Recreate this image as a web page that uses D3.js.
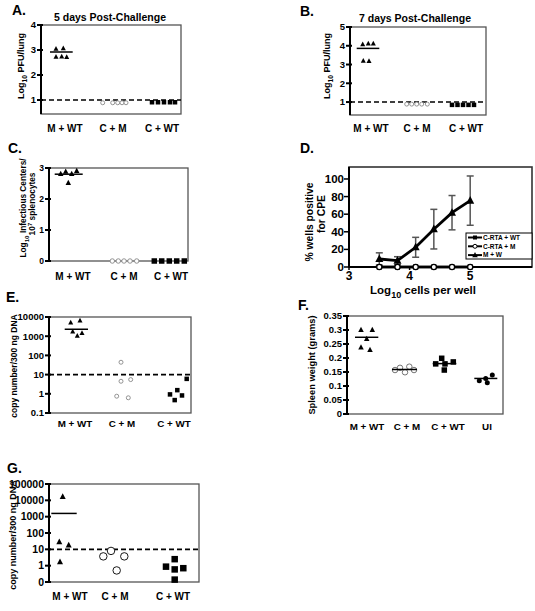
<!DOCTYPE html>
<html><head><meta charset="utf-8">
<script src="https://cdn.jsdelivr.net/npm/d3@7"></script>
<style>
body{margin:0;background:#fff}
svg{display:block}
text{font-family:"Liberation Sans",Arial,Helvetica,sans-serif;font-weight:bold;fill:#000}
</style>
</head><body><script>
// ---------------- DATA ----------------
const groups3 = ["M + WT", "C + M", "C + WT"];
const groups4 = ["M + WT", "C + M", "C + WT", "UI"];

// Panel A : 5 days post-challenge, log10 PFU/lung
const aTitle = "5 days Post-Challenge";
const aTicks = [1, 2, 3, 4];
const aMWT = [3.05, 3.07, 2.73, 2.74, 2.72];
const aMWTjit = [-0.18, -0.034, -0.18, -0.066, 0.034];
const aMWTmean = 2.92;
const aCM = [0.89, 0.89, 0.89, 0.89, 0.89];
const aCMjit = [-0.206, -0.006, 0.094, 0.18, 0.26];
const aCWT = [0.91, 0.91, 0.91, 0.91, 0.91];
const aCWTjit = [-0.2, -0.08, 0.04, 0.16, 0.26];
const aLimit = 1;

// Panel B : 7 days post-challenge
const bTitle = "7 days Post-Challenge";
const bTicks = [1, 2, 3, 4, 5];
const bMWT = [4.08, 4.11, 4.12, 3.2, 3.18];
const bMWTjit = [-0.166, -0.054, 0.046, -0.154, -0.04];
const bMWTmean = 3.86;
const bCM = [0.89, 0.89, 0.89, 0.89, 0.89];
const bCMjit = [-0.206, -0.106, -0.006, 0.094, 0.206];
const bCWT = [0.85, 0.85, 0.85, 0.85, 0.85];
const bCWTjit = [-0.28, -0.17, -0.06, 0.05, 0.16];
const bLimit = 1;

// Panel C : log10 infectious centers / 10^7 splenocytes
const cTicks = [0, 1, 2, 3];
const cMWT = [2.81, 2.88, 2.81, 2.91, 2.52];
const cMWTjit = [-0.246, -0.146, -0.026, 0.074, -0.094];
const cMWTmean = 2.8;
const cCM = [0, 0, 0, 0, 0];
const cCMjit = [-0.234, -0.114, 0, 0.12, 0.254];
const cCWT = [0, 0, 0, 0, 0];
const cCWTjit = [-0.334, -0.186, -0.034, 0.114, 0.266];

// Panel D : % wells positive for CPE vs log10 cells per well
const dCells = [3.5, 3.8, 4.1, 4.4, 4.7, 5.0];
const dMW = [9.1, 7.2, 22.4, 43, 61.7, 75.4];
const dMWsd = [7, 4.5, 11.3, 22.5, 19.5, 28];
const dCrtaM = [0, 0, 0, 0, 0, 0];
const dCrtaWT = [0, 0, 0, 0, 0, 0];
const dXTicks = [3, 4, 5];
const dYTicks = [0, 20, 40, 60, 80, 100];
const dLegend = ["C-RTA + WT", "C-RTA + M", "M + W"];

// Panel E : copy number / 300 ng DNA
const eTicks = [0.1, 1, 10, 100, 1000, 10000];
const eTickLabels = ["0.1", "1", "10", "100", "1000", "10000"];
const eMWT = [5070, 6450, 1740, 1040, 1450];
const eMWTjit = [-0.086, 0.1, -0.046, 0.046, 0.14];
const eMWTmean = 2300;
const eCM = [44, 4.5, 5.5, 0.75, 0.62];
const eCMjit = [-0.02, -0.02, 0.174, -0.106, 0.126];
const eCWT = [0.93, 1.55, 0.47, 0.82, 6.0];
const eCWTjit = [-0.08, 0.066, 0.014, 0.16, 0.254];
const eLimit = 10;

// Panel F : spleen weight (grams)
const fTicks = [0, 0.05, 0.1, 0.15, 0.2, 0.25, 0.3, 0.35];
const fTickLabels = ["0", "0.05", "0.1", "0.15", "0.2", "0.25", "0.3", "0.35"];
const fMWT = [0.30, 0.30, 0.268, 0.238, 0.229];
const fMWTjit = [-0.12, 0.106, -0.006, -0.12, 0.06];
const fMWTmean = 0.274;
const fCM = [0.157, 0.165, 0.149, 0.169, 0.157];
const fCMjit = [-0.24, -0.14, -0.04, 0.046, 0.14];
const fCMmean = 0.159;
const fCWT = [0.179, 0.199, 0.179, 0.186, 0.157];
const fCWTjit = [-0.246, -0.126, -0.06, 0.106, -0.074];
const fCWTmean = 0.18;
const fUI = [0.119, 0.127, 0.112, 0.139];
const fUIjit = [-0.154, -0.026, 0.006, 0.106];
const fUImean = 0.127;

// Panel G : copy number / 300 ng DNA
const gTicks = [0.1, 1, 10, 100, 1000, 10000, 100000];
const gTickLabels = ["0", "1", "10", "100", "1000", "10000", "100000"];
const gMWT = [16600, 28, 18, 1.67];
const gMWTjit = [-0.146, -0.214, -0.026, -0.2];
const gMWTmean = 1580;
const gCM = [3.7, 8, 3.7, 0.51];
const gCMjit = [-0.234, -0.08, 0.186, 0.034];
const gCWT = [0.87, 2.5, 0.59, 0.7, 0.14];
const gCWTjit = [-0.14, 0.034, 0.034, 0.206, 0.034];
const gLimit = 10;

// ---------------- DRAWING ----------------
const W = 535, H = 611;
const svg = d3.select("body").append("svg").attr("width", W).attr("height", H);

function drawSym(g, shape, x, y, size, color) {
  if (shape === "tri") {
    const w = size, h = size * 0.95;
    g.append("path").attr("d", `M${x},${y - h * 0.6}L${x + w / 2},${y + h * 0.4}L${x - w / 2},${y + h * 0.4}Z`).attr("fill", color || "#000");
  } else if (shape === "sq") {
    g.append("rect").attr("x", x - size / 2).attr("y", y - size / 2).attr("width", size).attr("height", size).attr("fill", color || "#000");
  } else if (shape === "circ") {
    g.append("circle").attr("cx", x).attr("cy", y).attr("r", size / 2).attr("fill", "#fff").attr("stroke", color || "#000").attr("stroke-width", 0.9);
  } else if (shape === "dot") {
    g.append("circle").attr("cx", x).attr("cy", y).attr("r", size / 2).attr("fill", color || "#000");
  }
}

function rotLabel(g, x, y, parts, fs) {
  // parts: array of [text, kind] kind: ""|"sub"|"sup"
  const t = g.append("text").attr("transform", `translate(${x},${y}) rotate(-90)`).attr("text-anchor", "middle").attr("font-size", fs);
  let shift = 0;
  parts.forEach(([s, k]) => {
    const want = k === "sub" ? fs * 0.3 : k === "sup" ? -fs * 0.4 : 0;
    const ts = t.append("tspan").attr("dy", want - shift).text(s);
    if (k) ts.attr("font-size", fs * 0.75);
    shift = want;
  });
  return t;
}

function scatterPanel(p) {
  const g = svg.append("g");
  const { x0, x1, y0, y1 } = p.box;
  const y = p.y;
  g.append("rect").attr("x", x0).attr("y", y0).attr("width", x1 - x0).attr("height", y1 - y0)
    .attr("fill", "none").attr("stroke", "#555").attr("stroke-width", 1.3);
  if (p.dashed != null) {
    g.append("line").attr("x1", x0).attr("x2", x1).attr("y1", y(p.dashed)).attr("y2", y(p.dashed))
      .attr("stroke", "#000").attr("stroke-width", 1.6).attr("stroke-dasharray", "5,3");
  }
  g.append("line").attr("x1", x0).attr("x2", x0).attr("y1", y0).attr("y2", y1).attr("stroke", "#000").attr("stroke-width", 2);
  p.ticks.forEach((t, i) => {
    const yy = y(t);
    g.append("line").attr("x1", x0 - 4).attr("x2", x0 + 2).attr("y1", yy).attr("y2", yy).attr("stroke", "#000").attr("stroke-width", 2);
    g.append("text").attr("x", x0 - 5).attr("y", yy + p.tickFont * 0.36).attr("text-anchor", "end")
      .attr("font-size", p.tickFont).text(p.tickLabels ? p.tickLabels[i] : String(t));
  });
  p.series.forEach(s => {
    const cx = p.centers[s.g];
    const xs = s.jit.map(j => cx + j * 50);
    s.vals.forEach((v, i) => drawSym(g, s.shape, xs[i], y(v), s.size, s.color));
    if (s.mean != null) {
      const pad = s.pad != null ? s.pad : 6;
      g.append("line").attr("x1", d3.min(xs) - pad).attr("x2", d3.max(xs) + pad)
        .attr("y1", y(s.mean)).attr("y2", y(s.mean)).attr("stroke", "#000").attr("stroke-width", 1.5);
    }
  });
  p.groups.forEach((gr, i) => {
    g.append("text").attr("x", p.centers[i]).attr("y", p.xLabelY).attr("text-anchor", "middle")
      .attr("font-size", p.xFont).text(gr);
  });
  if (p.title) {
    g.append("text").attr("x", p.title.x).attr("y", p.title.y).attr("text-anchor", "middle")
      .attr("font-size", 10.5).text(p.title.text);
  }
  g.append("text").attr("x", p.letter.x).attr("y", p.letter.y).attr("font-size", 14).text(p.letter.text);
  return g;
}

// ----- Panel A -----
const gA = scatterPanel({
  box: { x0: 41, x1: 181, y0: 25, y1: 114 },
  y: d3.scaleLinear().domain([0.44, 4]).range([114, 25]),
  ticks: aTicks, tickFont: 9.5,
  centers: [65, 113, 162], groups: groups3, xLabelY: 131.5, xFont: 10,
  dashed: aLimit,
  series: [
    { g: 0, vals: aMWT, jit: aMWTjit, shape: "tri", size: 5, mean: aMWTmean },
    { g: 1, vals: aCM, jit: aCMjit, shape: "circ", size: 4, color: "#888" },
    { g: 2, vals: aCWT, jit: aCWTjit, shape: "sq", size: 4.5 }
  ],
  title: { x: 110, y: 20.5, text: aTitle },
  letter: { x: 12, y: 15, text: "A." }
});
rotLabel(gA, 24, 66, [["Log", ""], ["10", "sub"], [" PFU/lung", ""]], 9);

// ----- Panel B -----
const gB = scatterPanel({
  box: { x0: 350, x1: 486, y0: 27, y1: 115 },
  y: d3.scaleLinear().domain([0.31, 5]).range([115, 27]),
  ticks: bTicks, tickFont: 9.5,
  centers: [371, 417, 466], groups: groups3, xLabelY: 131.5, xFont: 10,
  dashed: bLimit,
  series: [
    { g: 0, vals: bMWT, jit: bMWTjit, shape: "tri", size: 5, mean: bMWTmean },
    { g: 1, vals: bCM, jit: bCMjit, shape: "circ", size: 4, color: "#888" },
    { g: 2, vals: bCWT, jit: bCWTjit, shape: "sq", size: 4.5 }
  ],
  title: { x: 415, y: 21.5, text: bTitle },
  letter: { x: 300, y: 16, text: "B." }
});
rotLabel(gB, 330, 66, [["Log", ""], ["10", "sub"], [" PFU/lung", ""]], 9);

// ----- Panel C -----
const gC = scatterPanel({
  box: { x0: 49, x1: 188, y0: 168, y1: 261 },
  y: d3.scaleLinear().domain([0, 3]).range([261, 168]),
  ticks: cTicks, tickFont: 8.5,
  centers: [73, 124, 171], groups: groups3, xLabelY: 280, xFont: 10,
  dashed: null,
  series: [
    { g: 0, vals: cMWT, jit: cMWTjit, shape: "tri", size: 5.5, mean: cMWTmean },
    { g: 1, vals: cCM, jit: cCMjit, shape: "circ", size: 4.5, color: "#888" },
    { g: 2, vals: cCWT, jit: cCWTjit, shape: "sq", size: 5.5 }
  ],
  letter: { x: 8, y: 153, text: "C." }
});
rotLabel(gC, 26, 208, [["Log", ""], ["10", "sub"], [" Infectious Centers/", ""]], 8.3);
rotLabel(gC, 35, 204, [["10", ""], ["7", "sup"], [" splenocytes", ""]], 8.3);

// ----- Panel D -----
(function () {
  const g = svg.append("g");
  const x0 = 349, x1 = 532, y0 = 167, y1 = 267;
  const x = d3.scaleLinear().domain([3, 6.02]).range([x0, x1]);
  const y = d3.scaleLinear().domain([0, 113.6]).range([y1, y0]);
  g.append("rect").attr("x", x0).attr("y", y0).attr("width", x1 - x0).attr("height", y1 - y0)
    .attr("fill", "none").attr("stroke", "#333").attr("stroke-width", 1.6);
  g.append("line").attr("x1", x0).attr("x2", x0).attr("y1", y0).attr("y2", y1).attr("stroke", "#000").attr("stroke-width", 2);
  g.append("line").attr("x1", x0).attr("x2", x1).attr("y1", y1).attr("y2", y1).attr("stroke", "#000").attr("stroke-width", 2);
  dYTicks.forEach(t => {
    g.append("line").attr("x1", x0 - 5).attr("x2", x0).attr("y1", y(t)).attr("y2", y(t)).attr("stroke", "#000").attr("stroke-width", 1.5);
    g.append("text").attr("x", x0 - 5).attr("y", y(t) + 4).attr("text-anchor", "end").attr("font-size", 11.5).text(t);
  });
  dXTicks.forEach(t => {
    g.append("line").attr("x1", x(t)).attr("x2", x(t)).attr("y1", y1).attr("y2", y1 + 3).attr("stroke", "#000").attr("stroke-width", 1.5);
    g.append("text").attr("x", x(t)).attr("y", 279.5).attr("text-anchor", "middle").attr("font-size", 12).text(t);
  });
  const line = d3.line().x((d, i) => x(dCells[i])).y(d => y(d));
  // error bars
  dMW.forEach((v, i) => {
    const cx = x(dCells[i]);
    const hi = y(v + dMWsd[i]), lo = y(Math.max(0, v - dMWsd[i]));
    g.append("line").attr("x1", cx).attr("x2", cx).attr("y1", hi).attr("y2", lo).attr("stroke", "#555").attr("stroke-width", 1.5);
    [hi, lo].forEach(yy => g.append("line").attr("x1", cx - 3.5).attr("x2", cx + 3.5).attr("y1", yy).attr("y2", yy).attr("stroke", "#555").attr("stroke-width", 1.5));
  });
  g.append("path").attr("d", line(dCrtaWT)).attr("fill", "none").attr("stroke", "#000").attr("stroke-width", 2.5);
  dCrtaWT.forEach((v, i) => drawSym(g, "sq", x(dCells[i]), y(v), 5));
  g.append("path").attr("d", line(dCrtaM)).attr("fill", "none").attr("stroke", "#000").attr("stroke-width", 2.5);
  dCrtaM.forEach((v, i) => g.append("circle").attr("cx", x(dCells[i])).attr("cy", y(v)).attr("r", 2.6).attr("fill", "#fff").attr("stroke", "#000").attr("stroke-width", 1.3));
  g.append("path").attr("d", line(dMW)).attr("fill", "none").attr("stroke", "#000").attr("stroke-width", 2.8);
  dMW.forEach((v, i) => drawSym(g, "tri", x(dCells[i]), y(v), 8));
  // legend
  const lx = 466, ly = 233;
  g.append("rect").attr("x", lx).attr("y", ly).attr("width", x1 - lx).attr("height", 26).attr("fill", "#fff").attr("stroke", "#000").attr("stroke-width", 1);
  const shapes = ["sq", "circ", "tri"];
  dLegend.forEach((name, i) => {
    const yy = ly + 4.5 + i * 8.8;
    g.append("line").attr("x1", lx + 2).attr("x2", lx + 16).attr("y1", yy).attr("y2", yy).attr("stroke", "#000").attr("stroke-width", 2);
    if (shapes[i] === "circ") g.append("circle").attr("cx", lx + 9).attr("cy", yy).attr("r", 2).attr("fill", "#fff").attr("stroke", "#000").attr("stroke-width", 1);
    else drawSym(g, shapes[i], lx + 9, yy, shapes[i] === "tri" ? 5.5 : 4);
    g.append("text").attr("x", lx + 17).attr("y", yy + 2.3).attr("font-size", 6.5).text(name);
  });
  // axis labels
  const xl = g.append("text").attr("x", 423).attr("y", 294).attr("text-anchor", "middle").attr("font-size", 11.5);
  xl.append("tspan").text("Log");
  xl.append("tspan").attr("dy", 3.5).attr("font-size", 9).text("10");
  xl.append("tspan").attr("dy", -3.5).text(" cells per well");
  rotLabel(g, 313, 222, [["% wells positive", ""]], 10.3);
  rotLabel(g, 325, 214, [["for CPE", ""]], 10.3);
  g.append("text").attr("x", 300).attr("y", 153).attr("font-size", 14).text("D.");
})();

// ----- Panel E -----
const gE = scatterPanel({
  box: { x0: 49, x1: 191, y0: 317, y1: 413 },
  y: d3.scaleLog().domain([0.1, 10000]).range([413, 317]),
  ticks: eTicks, tickLabels: eTickLabels, tickFont: 9.5,
  centers: [75, 122, 174], groups: groups3, xLabelY: 427, xFont: 9.8,
  dashed: eLimit,
  series: [
    { g: 0, vals: eMWT, jit: eMWTjit, shape: "tri", size: 5, mean: eMWTmean },
    { g: 1, vals: eCM, jit: eCMjit, shape: "circ", size: 4, color: "#888" },
    { g: 2, vals: eCWT, jit: eCWTjit, shape: "sq", size: 4.5 }
  ],
  letter: { x: 6, y: 302, text: "E." }
});
rotLabel(gE, 16.5, 366, [["copy number/300 ng DNA", ""]], 8.5);

// ----- Panel F -----
const gF = scatterPanel({
  box: { x0: 347, x1: 503, y0: 316, y1: 414 },
  y: d3.scaleLinear().domain([0, 0.35]).range([414, 316]),
  ticks: fTicks, tickLabels: fTickLabels, tickFont: 9.5,
  centers: [367, 407, 448, 487], groups: groups4, xLabelY: 430, xFont: 9.8,
  dashed: null,
  series: [
    { g: 0, vals: fMWT, jit: fMWTjit, shape: "tri", size: 5.5, mean: fMWTmean, pad: 6 },
    { g: 1, vals: fCM, jit: fCMjit, shape: "circ", size: 5.5, color: "#666", mean: fCMmean, pad: 3 },
    { g: 2, vals: fCWT, jit: fCWTjit, shape: "sq", size: 5.5, mean: fCWTmean, pad: 3 },
    { g: 3, vals: fUI, jit: fUIjit, shape: "dot", size: 5, mean: fUImean, pad: 5 }
  ],
  letter: { x: 298, y: 310, text: "F." }
});
rotLabel(gF, 315, 365, [["Spleen weight (grams)", ""]], 9.3);

// ----- Panel G -----
const gG = scatterPanel({
  box: { x0: 49, x1: 199, y0: 484, y1: 582 },
  y: d3.scaleLog().domain([0.1, 100000]).range([582, 484]),
  ticks: gTicks, tickLabels: gTickLabels, tickFont: 10.5,
  centers: [70, 115, 173], groups: groups3, xLabelY: 599.5, xFont: 10,
  dashed: gLimit,
  series: [
    { g: 0, vals: gMWT, jit: gMWTjit, shape: "tri", size: 6, mean: gMWTmean, pad: 8 },
    { g: 1, vals: gCM, jit: gCMjit, shape: "circ", size: 7.5, color: "#000" },
    { g: 2, vals: gCWT, jit: gCWTjit, shape: "sq", size: 6.5 }
  ],
  letter: { x: 7, y: 473, text: "G." }
});
rotLabel(gG, 16, 535, [["copy number/300 ng DNA", ""]], 9);
</script></body></html>
